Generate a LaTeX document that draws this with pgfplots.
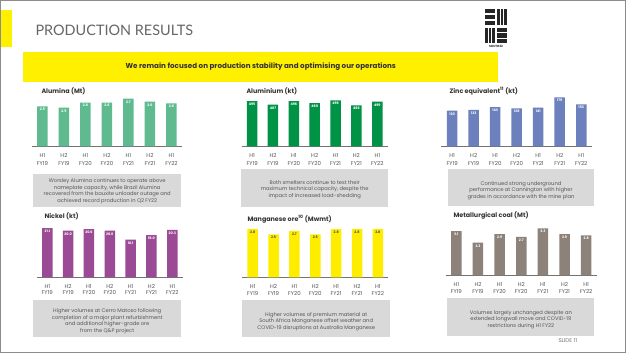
\documentclass[border=0pt]{standalone}
\usepackage{pgfplots}
\pgfplotsset{compat=1.18}
\usepackage{fontspec}
\setmainfont{Poppins}
\newfontfamily\latofont{Lato}
\definecolor{cAlumina}{RGB}{95,187,143}
\definecolor{cAluminium}{RGB}{0,146,69}
\definecolor{cZinc}{RGB}{108,128,189}
\definecolor{cNickel}{RGB}{155,75,150}
\definecolor{cMang}{RGB}{255,237,0}
\definecolor{cCoal}{RGB}{140,130,122}
\definecolor{cBanner}{RGB}{255,240,0}
\definecolor{cBox}{RGB}{217,217,217}
\definecolor{cText}{RGB}{85,85,85}
\definecolor{cTitle}{RGB}{51,51,51}
\pgfplotsset{
  panel/.style={
    scale only axis, anchor=south west,
    ybar, bar width=10.5bp,
    xmin=-0.5, xmax=6.5,
    axis x line*=bottom, axis y line=none,
    xtick={0,...,6}, ytick=\empty,
    xticklabels={{H1\\FY19},{H2\\FY19},{H1\\FY20},{H2\\FY20},{H1\\FY21},{H2\\FY21},{H1\\FY22}},
    xtick style={draw=none},
    axis line style={draw=black!55, line width=0.8bp, -},
    xticklabel style={align=center, text=cText, font=\fontsize{5.5}{7.8}\selectfont, yshift=0.5bp},
    point meta=explicit symbolic,
    nodes near coords,
    every node near coord/.append style={font=\fontsize{3.4}{4}\selectfont\bfseries, text=white, yshift=-8bp},
  },
  panelb/.style={panel, xticklabel style={font=\fontsize{5.5}{6.6}\selectfont}},
}
\begin{document}
\begin{tikzpicture}
\begin{scope}[x=1bp,y=-1bp]
  \fill[white] (0,0) rectangle (626,353);
  \draw[black!45, line width=0.6bp] (0.3,0.3) rectangle (625.7,352.7);
  \fill[cBanner] (1,10) rectangle (12,47);
  \node[anchor=west, text=black!60, font=\latofont\fontsize{14.5}{16}\selectfont] at (32,30) {PRODUCTION RESULTS};
  % logo
  \foreach \yy in {9,15,21} \fill[black!85] (485,\yy) rectangle (495,\yy+4.2);
  \foreach \xx in {497,500.6,504.2} \fill[black!85] (\xx,9) rectangle (\xx+2.8,25.2);
  \foreach \xx in {485,488.6,492.2} \fill[black!85] (\xx,28) rectangle (\xx+2.8,43);
  \foreach \yy in {28,33.4,38.8} \fill[black!85] (497,\yy) rectangle (507,\yy+4.2);
  \node[font=\fontsize{3}{3.5}\selectfont\bfseries, text=black!85] at (496,46.5) {SOUTH32};
  % banner
  \fill[cBanner] (23.3,51.7) rectangle (498.3,81.7);
  \node[font=\fontsize{7.2}{9}\selectfont\bfseries, text=cTitle] at (260.8,66.7) {We remain focused on production stability and optimising our operations};
  % chart titles
  \tikzset{ct/.style={anchor=west, font=\fontsize{6.4}{8}\selectfont\bfseries, text=cTitle}}
  \node[ct] at (38,91) {Alumina (Mt)};
  \node[ct] at (243,91) {Aluminium (kt)};
  \node[ct] at (446,91) {Zinc equivalent\textsuperscript{11} (kt)};
  \node[ct] at (41,216.7) {Nickel (kt)};
  \node[ct] at (244,219.3) {Manganese ore\textsuperscript{10} (Mwmt)};
  \node[ct] at (450,215.7) {Metallurgical coal (Mt)};
  % grey boxes
  \tikzset{gb/.style={anchor=north, align=center, font=\fontsize{5.2}{6.5}\selectfont, text=cText}}
  \fill[cBox] (33.3,174) rectangle (181,206.7);
  \node[gb] at (107.2,175.5) {Worsley Alumina continues to operate above\\nameplate capacity, while Brazil Alumina\\recovered from the bauxite unloader outage and\\achieved record production in Q2 FY22};
  \fill[cBox] (241,169.3) rectangle (388.3,207.3);
  \node[gb] at (314.7,177) {Both smelters continue to test their\\maximum technical capacity, despite the\\impact of increased load-shedding};
  \fill[cBox] (447.7,169.3) rectangle (594.3,206);
  \node[gb] at (521,178) {Continued strong underground\\performance at Cannington with higher\\grades in accordance with the mine plan};
  \fill[cBox] (33.3,300) rectangle (181,336.7);
  \node[gb] at (107.2,305.5) {Higher volumes at Cerro Matoso following\\completion of a major plant refurbishment\\and additional higher-grade ore\\from the Q\&P project};
  \fill[cBox] (242.3,300) rectangle (390,336.7);
  \node[gb] at (316.2,308.7) {Higher volumes of premium material at\\South Africa Manganese offset weather and\\COVID-19 disruptions at Australia Manganese};
  \fill[cBox] (447.3,298.3) rectangle (594.3,336);
  \node[gb] at (520.8,307) {Volumes largely unchanged despite an\\extended longwall move and COVID-19\\restrictions during H1 FY22};
  \node[anchor=west, font=\fontsize{5.5}{6}\selectfont, text=black!55] at (555,340.5) {SLIDE 11};
\end{scope}

% Alumina
\begin{axis}[panel, at={(31.7bp,-146.3bp)}, width=150.5bp, height=52bp, ymin=1.6, ymax=2.8]
\addplot[fill=cAlumina, draw=none] table[x=x, y=y, meta=l, row sep=\\] {
x y l \\ 0 2.52 2.5 \\ 1 2.49 2.5 \\ 2 2.61 2.6 \\ 3 2.61 2.6 \\ 4 2.70 2.7 \\ 5 2.63 2.6 \\ 6 2.59 2.6 \\
};
\end{axis}
% Aluminium
\begin{axis}[panel, at={(241.7bp,-146.3bp)}, width=146bp, height=53.3bp, ymin=410, ymax=510]
\addplot[fill=cAluminium, draw=none] table[x=x, y=y, meta=l, row sep=\\] {
x y l \\ 0 495 495 \\ 1 488 487 \\ 2 495 496 \\ 3 491 490 \\ 4 496 496 \\ 5 487 486 \\ 6 494 499 \\
};
\end{axis}
% Zinc
\begin{axis}[panel, at={(441.4bp,-146.3bp)}, width=150.6bp, height=54.8bp, ymin=0, ymax=200]
\addplot[fill=cZinc, draw=none] table[x=x, y=y, meta=l, row sep=\\] {
x y l \\ 0 130 130 \\ 1 133 133 \\ 2 143 143 \\ 3 138 138 \\ 4 141 141 \\ 5 179 179 \\ 6 153 153 \\
};
\end{axis}
% Nickel
\begin{axis}[panelb, at={(36.9bp,-277bp)}, width=145.8bp, height=53.4bp, ymin=0, ymax=23]
\addplot[fill=cNickel, draw=none] table[x=x, y=y, meta=l, row sep=\\] {
x y l \\ 0 21.1 21.1 \\ 1 20.0 20.0 \\ 2 20.6 20.6 \\ 3 20.0 20.0 \\ 4 16.1 16.1 \\ 5 18.0 18.0 \\ 6 20.3 20.3 \\
};
\end{axis}
% Manganese
\begin{axis}[panelb, at={(242.3bp,-277.3bp)}, width=146bp, height=53.3bp, ymin=0, ymax=3.1,
  every node near coord/.append style={text=black!70}]
\addplot[fill=cMang, draw=none] table[x=x, y=y, meta=l, row sep=\\] {
x y l \\ 0 2.8 2.8 \\ 1 2.5 2.5 \\ 2 2.7 2.7 \\ 3 2.5 2.5 \\ 4 2.8 2.8 \\ 5 2.8 2.8 \\ 6 2.8 2.8 \\
};
\end{axis}
% Metallurgical coal
\begin{axis}[panelb, at={(445.5bp,-275.3bp)}, width=151.5bp, height=52.7bp, ymin=0, ymax=3.7]
\addplot[fill=cCoal, draw=none] table[x=x, y=y, meta=l, row sep=\\] {
x y l \\ 0 3.1 3.1 \\ 1 2.3 2.3 \\ 2 2.9 2.9 \\ 3 2.7 2.7 \\ 4 3.3 3.3 \\ 5 2.9 2.9 \\ 6 2.8 2.8 \\
};
\end{axis}
\end{tikzpicture}
\end{document}
